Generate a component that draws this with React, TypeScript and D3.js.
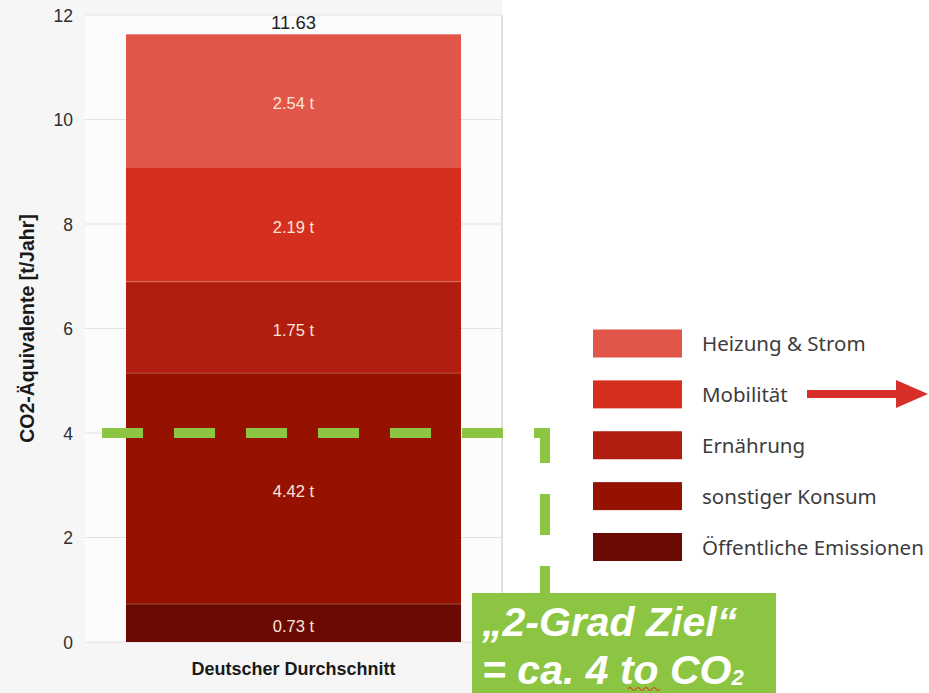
import * as d3 from "d3";

const categories = ["Deutscher Durchschnitt"];
const seriesNames = ["Öffentliche Emissionen", "sonstiger Konsum", "Ernährung", "Mobilität", "Heizung & Strom"];
const seriesValues = [0.73, 4.42, 1.75, 2.19, 2.54];
const seriesColors = ["#6b0a02", "#961200", "#b11d0e", "#d52f1f", "#e15649"];
const yTicks = [0, 2, 4, 6, 8, 10, 12];
const totalLabel = "11.63";
const targetValue = 4;

const W = 929;
const H = 693;
const PLOT = { left: 85, right: 502, top: 15, bottom: 642 };
const GREEN = "#8bc541";

export default function App() {
  const y = d3.scaleLinear().domain([0, 12]).range([PLOT.bottom, PLOT.top]);
  const x = d3.scaleBand().domain(categories).range([PLOT.left, PLOT.right]).paddingInner(0.109).paddingOuter(0.109);

  const stackData = [Object.fromEntries(seriesNames.map((n, i) => [n, seriesValues[i]]))];
  const stacked = d3.stack<any>().keys(seriesNames)(stackData);

  // legend order top to bottom is reversed stack order
  const legendItems = seriesNames.map((n, i) => ({ name: n, color: seriesColors[i] })).reverse();
  const legendY = d3.scalePoint().domain(legendItems.map((d) => d.name)).range([343.5, 547]);

  const cat = categories[0];
  const bx = x(cat)!;
  const bw = x.bandwidth();
  const yT = y(targetValue);

  const dashPath = `M102,${yT} H545 V593`;

  return (
    <svg width={W} height={H} style={{ position: "absolute", left: 0, top: 0, background: "#fff" }}>
      {/* chart panel */}
      <rect x={0} y={0} width={PLOT.right} height={H} fill="#f6f6f6" />
      <rect x={PLOT.left} y={PLOT.top} width={PLOT.right - PLOT.left} height={PLOT.bottom - PLOT.top} fill="#fcfcfc" />
      <line x1={PLOT.right} x2={PLOT.right} y1={PLOT.top} y2={H} stroke="#d6d6d6" strokeWidth={1.5} />

      {yTicks.map((t) => (
        <g key={t}>
          <line x1={PLOT.left} x2={PLOT.right} y1={y(t)} y2={y(t)} stroke="#e2e2e2" strokeWidth={1.2} />
          <text x={73} y={y(t)} dy="0.38em" textAnchor="end" fontFamily="Liberation Sans, Arial" fontSize={17.5} fill="#2e2e2e">
            {t}
          </text>
        </g>
      ))}

      <text
        transform={`translate(27,${(PLOT.top + PLOT.bottom) / 2}) rotate(-90)`}
        textAnchor="middle"
        dy="0.35em"
        fontFamily="Liberation Sans, Arial"
        fontWeight="bold"
        fontSize={19.5}
        fill="#1a1a1a"
      >
        CO2-Äquivalente [t/Jahr]
      </text>

      {stacked.map((s, i) => {
        const d = s[0];
        const y0 = y(d[1]);
        const y1 = y(d[0]);
        return (
          <g key={s.key}>
            <rect x={bx} y={y0} width={bw} height={y1 - y0} fill={seriesColors[i]} />
            {i < stacked.length - 1 && (
              <line x1={bx} x2={bx + bw} y1={y0} y2={y0} stroke="#ffffff" strokeOpacity={0.25} strokeWidth={1.5} />
            )}
            <text
              x={bx + bw / 2}
              y={(y0 + y1) / 2 + 3}
              dy="0.35em"
              textAnchor="middle"
              fontFamily="Liberation Sans, Arial"
              fontSize={16.5}
              fill="#fbe4dc"
            >
              {`${seriesValues[i].toFixed(2)} t`}
            </text>
          </g>
        );
      })}

      <text x={bx + bw / 2} y={29} textAnchor="middle" fontFamily="Liberation Sans, Arial" fontSize={18.5} fill="#222">
        {totalLabel}
      </text>

      <text x={bx + bw / 2} y={675} textAnchor="middle" fontFamily="Liberation Sans, Arial" fontWeight="bold" fontSize={18} fill="#1a1a1a">
        {cat}
      </text>

      {/* 2-Grad target line */}
      <path d={dashPath} fill="none" stroke={GREEN} strokeWidth={10} strokeDasharray="41 31" />

      {/* legend */}
      {legendItems.map((d) => {
        const cy = legendY(d.name)!;
        return (
          <g key={d.name}>
            <rect x={593} y={cy - 14} width={89} height={28} fill={d.color} />
            <text x={702} y={cy + 7.5} fontFamily="Noto Sans, Open Sans" fontSize={20.5} fill="#3c3c3c">
              {d.name}
            </text>
          </g>
        );
      })}

      {/* arrow next to Mobilität */}
      <line x1={807} x2={898} y1={394} y2={394} stroke="#d7302a" strokeWidth={8} />
      <path d="M896,380 L928,394 L896,408 Z" fill="#d7302a" />

      {/* green note box */}
      <rect x={472} y={593} width={304} height={H - 593} fill={GREEN} />
      <g fontFamily="Liberation Sans, Arial" fontWeight="bold" fontStyle="italic" fill="#fff">
        <text x={482} y={636} fontSize={41}>„2-Grad Ziel“</text>
        <text x={482} y={684} fontSize={41}>
          = ca. 4 to CO<tspan fontSize={22} dy={1}>2</tspan>
        </text>
      </g>
      <path d="M628,689 q2,-3 4,0 t4,0 t4,0 t4,0 t4,0 t4,0 t4,0 t4,0" fill="none" stroke="#e03a2a" strokeWidth={1.2} />
    </svg>
  );
}
